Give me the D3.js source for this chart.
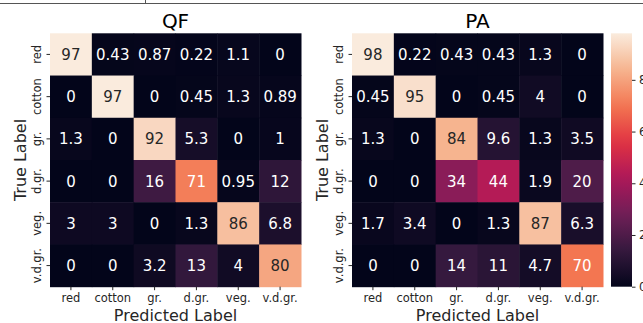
<!DOCTYPE html>
<html>
<head>
<meta charset="utf-8">
<script src="https://cdn.jsdelivr.net/npm/d3@7"></script>
<style>
  body { margin: 0; background: #fff; }
  svg { display: block; font-family: 'DejaVu Sans', sans-serif; }
</style>
</head>
<body>
<div class="chart"></div>
<script>
// class labels (rows = true, columns = predicted)
const classes = ['red', 'cotton', 'gr.', 'd.gr.', 'veg.', 'v.d.gr.'];

// confusion matrices in percent
const qfValues = [
  [97, 0.43, 0.87, 0.22, 1.1, 0],
  [0, 97, 0, 0.45, 1.3, 0.89],
  [1.3, 0, 92, 5.3, 0, 1],
  [0, 0, 16, 71, 0.95, 12],
  [3, 3, 0, 1.3, 86, 6.8],
  [0, 0, 3.2, 13, 4, 80]
];
const paValues = [
  [98, 0.22, 0.43, 0.43, 1.3, 0],
  [0.45, 95, 0, 0.45, 4, 0],
  [1.3, 0, 84, 9.6, 1.3, 3.5],
  [0, 0, 34, 44, 1.9, 20],
  [1.7, 3.4, 0, 1.3, 87, 6.3],
  [0, 0, 14, 11, 4.7, 70]
];
const titles = ['QF', 'PA'];
const colorbarTicks = [0, 20, 40, 60, 80];

const WIDTH = 643, HEIGHT = 323;
const TOP = 33.3, BOTTOM = 286.7;
const lefts = [50, 352];
const matW = 251;

// seaborn "rocket" approximation
const rocket = d3.piecewise(d3.interpolateRgb, [
  '#03051a', '#35193e', '#701f57', '#ad1759', '#e13342', '#f37651', '#f6b48f', '#faebdd'
]);

function luminance(c) {
  const rgb = d3.rgb(c);
  const f = v => {
    v = v / 255;
    return v <= 0.03928 ? v / 12.92 : Math.pow((v + 0.055) / 1.055, 2.4);
  };
  return 0.2126 * f(rgb.r) + 0.7152 * f(rgb.g) + 0.0722 * f(rgb.b);
}

const fmt = d3.format('.2~g');

const svg = d3.select('.chart')
  .append('svg')
  .attr('width', WIDTH)
  .attr('height', HEIGHT);

// bit of the page border above the figure
svg.append('line')
  .attr('x1', 0).attr('x2', WIDTH)
  .attr('y1', 3.5).attr('y2', 3.5)
  .attr('stroke', '#555').attr('stroke-width', 1);
svg.append('line')
  .attr('x1', 145.5).attr('x2', 145.5)
  .attr('y1', 0).attr('y2', 3.5)
  .attr('stroke', '#555').attr('stroke-width', 1);

let lastColor = null;

[qfValues, paValues].forEach((values, k) => {
  const x0 = lefts[k];
  const x = d3.scaleBand().domain(classes).range([x0, x0 + matW]);
  const y = d3.scaleBand().domain(classes).range([TOP, BOTTOM]);
  const flat = [];
  values.forEach((row, i) => row.forEach((v, j) => flat.push({r: classes[i], c: classes[j], v: v})));
  const ext = d3.extent(flat, d => d.v);
  const color = d3.scaleSequential(rocket).domain(ext);
  lastColor = color;

  const g = svg.append('g');

  g.selectAll('.cell')
    .data(flat)
    .enter()
    .append('rect')
    .attr('x', d => x(d.c))
    .attr('y', d => y(d.r))
    .attr('width', x.bandwidth() + 0.5)
    .attr('height', y.bandwidth() + 0.5)
    .attr('fill', d => color(d.v));

  g.selectAll('.val')
    .data(flat)
    .enter()
    .append('text')
    .text(d => fmt(d.v))
    .attr('x', d => x(d.c) + x.bandwidth() / 2)
    .attr('y', d => y(d.r) + y.bandwidth() / 2)
    .attr('dy', '0.36em')
    .attr('text-anchor', 'middle')
    .style('font-size', '15px')
    .style('fill', d => luminance(color(d.v)) > 0.408 ? '#262626' : '#ffffff');

  // x axis
  const xAxis = d3.axisBottom(x).tickSize(3.5).tickPadding(3.5);
  const xg = g.append('g')
    .attr('transform', 'translate(0,' + BOTTOM + ')')
    .call(xAxis);
  xg.select('.domain').remove();
  xg.selectAll('line').attr('stroke', '#262626');
  xg.selectAll('text')
    .style('font-size', '11.5px')
    .style('font-family', 'DejaVu Sans')
    .attr('fill', '#262626');

  // y axis, labels turned
  const yAxis = d3.axisLeft(y).tickSize(3.5).tickPadding(3.5);
  const yg = g.append('g')
    .attr('transform', 'translate(' + x0 + ',0)')
    .call(yAxis);
  yg.select('.domain').remove();
  yg.selectAll('line').attr('stroke', '#262626');
  yg.selectAll('text')
    .attr('x', null).attr('dy', null)
    .attr('text-anchor', 'middle')
    .attr('transform', 'translate(-9,0) rotate(-90)')
    .style('font-size', '11.5px')
    .style('font-family', 'DejaVu Sans')
    .attr('fill', '#262626');

  g.append('text')
    .text(titles[k])
    .attr('x', x0 + matW / 2)
    .attr('y', 28)
    .attr('text-anchor', 'middle')
    .style('font-size', '20px')
    .style('fill', '#000');

  g.append('text')
    .text('Predicted Label')
    .attr('x', x0 + matW / 2)
    .attr('y', 320.5)
    .attr('text-anchor', 'middle')
    .style('font-size', '16px')
    .style('fill', '#262626');

  g.append('text')
    .text('True Label')
    .attr('transform', 'translate(' + (x0 - 24) + ',' + ((TOP + BOTTOM) / 2) + ') rotate(-90)')
    .attr('text-anchor', 'middle')
    .style('font-size', '16px')
    .style('fill', '#262626');
});

// colorbar for the right-hand map
const cbX = 611, cbW = 21;
const cbScale = d3.scaleLinear().domain(lastColor.domain()).range([BOTTOM, TOP]);
const defs = svg.append('defs');
const grad = defs.append('linearGradient')
  .attr('id', 'cbgrad')
  .attr('x1', 0).attr('y1', 1).attr('x2', 0).attr('y2', 0);
d3.range(0, 1.0001, 0.05).forEach(t => {
  grad.append('stop')
    .attr('offset', t)
    .attr('stop-color', rocket(t));
});
svg.append('rect')
  .attr('x', cbX)
  .attr('y', TOP)
  .attr('width', cbW)
  .attr('height', BOTTOM - TOP)
  .attr('fill', 'url(#cbgrad)');

const cbAxis = d3.axisRight(cbScale).tickValues(colorbarTicks).tickSize(3.5).tickPadding(3.5);
const cbg = svg.append('g')
  .attr('transform', 'translate(' + (cbX + cbW) + ',0)')
  .call(cbAxis);
cbg.select('.domain').remove();
cbg.selectAll('line').attr('stroke', '#262626');
cbg.selectAll('text')
  .style('font-size', '11.5px')
  .style('font-family', 'DejaVu Sans')
  .attr('fill', '#262626');
</script>
</body>
</html>
